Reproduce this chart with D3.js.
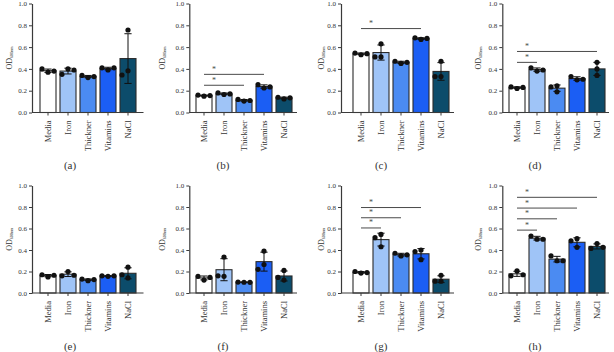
<!DOCTYPE html>
<html>
<head>
<meta charset="utf-8">
<script src="https://cdn.jsdelivr.net/npm/d3@7/dist/d3.min.js"></script>
<style>
  html, body { margin: 0; padding: 0; background: #fff; }
  svg { display: block; }
</style>
</head>
<body>
<div id="chart"></div>
<script>
// Treatments on the x axis of every panel
const categories = ["Media", "Iron", "Thickner", "Vitamins", "NaCl"]
const panelLabels = ["(a)", "(b)", "(c)", "(d)", "(e)", "(f)", "(g)", "(h)"]
const yTicks = [0, 0.2, 0.4, 0.6, 0.8, 1.0]

// Replicate OD600 readings, one array of three per treatment
const repsA = [[0.37, 0.40, 0.38], [0.40, 0.35, 0.39], [0.32, 0.34, 0.33], [0.39, 0.41, 0.41], [0.757, 0.383, 0.344]]
const repsB = [[0.15, 0.16, 0.155], [0.165, 0.18, 0.17], [0.105, 0.12, 0.11], [0.225, 0.255, 0.235], [0.125, 0.14, 0.135]]
const repsC = [[0.53, 0.545, 0.54], [0.51, 0.63, 0.51], [0.45, 0.47, 0.46], [0.67, 0.685, 0.68], [0.47, 0.33, 0.33]]
const repsD = [[0.22, 0.235, 0.23], [0.38, 0.41, 0.39], [0.19, 0.245, 0.235], [0.30, 0.33, 0.305], [0.46, 0.40, 0.34]]
const repsE = [[0.15, 0.17, 0.165], [0.20, 0.16, 0.165], [0.115, 0.13, 0.125], [0.155, 0.16, 0.16], [0.24, 0.14, 0.17]]
const repsF = [[0.12, 0.155, 0.145], [0.335, 0.155, 0.16], [0.10, 0.102, 0.099], [0.39, 0.265, 0.22], [0.21, 0.12, 0.145]]
const repsG = [[0.185, 0.20, 0.19], [0.545, 0.515, 0.43], [0.345, 0.37, 0.355], [0.40, 0.31, 0.385], [0.165, 0.11, 0.11]]
const repsH = [[0.205, 0.16, 0.17], [0.50, 0.53, 0.50], [0.30, 0.345, 0.30], [0.505, 0.485, 0.425], [0.46, 0.415, 0.425]]

// Significance brackets: [from, to, OD level of the line]
const sigA = []
const sigB = [["Media", "Vitamins", 0.35], ["Media", "Thickner", 0.25]]
const sigC = [["Media", "Vitamins", 0.77]]
const sigD = [["Media", "NaCl", 0.56], ["Media", "Iron", 0.46]]
const sigE = []
const sigF = []
const sigG = [["Media", "Vitamins", 0.795], ["Media", "Thickner", 0.70], ["Media", "Iron", 0.605]]
const sigH = [["Media", "NaCl", 0.89], ["Media", "Vitamins", 0.79], ["Media", "Thickner", 0.69], ["Media", "Iron", 0.585]]

const panelReps = [repsA, repsB, repsC, repsD, repsE, repsF, repsG, repsH]
const panelSigs = [sigA, sigB, sigC, sigD, sigE, sigF, sigG, sigH]

const COLORS = {
  fills: ["#ffffff", "#9fc4f7", "#4b8bf2", "#1b5ef4", "#0c4c6b"],
  stroke: "#2b2b2b",
  axis: "#3a3a3a",
  text: "#333",
  dot: "#111",
  sig: "#4a4a4a"
}

const W = 614, H = 352
const SERIF = "'Liberation Serif', 'DejaVu Serif', serif"

// column / row geometry of the panel grid
const COLS = [
  { axisX: 32, band0: 38, axisEnd: 143.5, titleX: 9, labelX: 70 },
  { axisX: 189.3, band0: 194, axisEnd: 297, titleX: 162, labelX: 223 },
  { axisX: 341, band0: 351, axisEnd: 454, titleX: 321, labelX: 381 },
  { axisX: 502.3, band0: 507, axisEnd: 609, titleX: 478, labelX: 535 }
]
const ROWS = [
  { y0: 112.5, y1: 3.5, labelY: 168.5 },
  { y0: 293, y1: 185.5, labelY: 349.5 }
]

const svg = d3.select("#chart").append("svg")
  .attr("width", W).attr("height", H)
  .attr("viewBox", `0 0 ${W} ${H}`)

svg.append("rect").attr("width", W).attr("height", H).attr("fill", "#fff")

panelReps.forEach((reps, i) => {
  const col = COLS[i % 4]
  const row = ROWS[Math.floor(i / 4)]
  drawPanel(col, row, reps, panelSigs[i], panelLabels[i])
})

function drawPanel(col, row, reps, sigs, label) {
  const g = svg.append("g")

  const x = d3.scaleBand()
    .domain(categories)
    .range([col.band0, col.band0 + 100])
    .paddingInner(0.2)
    .paddingOuter(0.1)
  const y = d3.scaleLinear().domain([0, 1]).range([row.y0, row.y1])

  const stats = categories.map((c, k) => ({
    cat: c,
    k: k,
    vals: reps[k],
    mean: d3.mean(reps[k]),
    sd: d3.deviation(reps[k])
  }))

  // Bars
  g.selectAll(".bar")
    .data(stats)
    .join("rect")
    .attr("class", "bar")
    .attr("x", d => x(d.cat))
    .attr("y", d => y(d.mean))
    .attr("width", x.bandwidth())
    .attr("height", d => y(0) - y(d.mean))
    .attr("fill", d => COLORS.fills[d.k])
    .attr("stroke", COLORS.stroke)
    .attr("stroke-width", 1.1)

  // Error bars (mean ± SD)
  const capW = 3.6
  stats.forEach(d => {
    const cx = x(d.cat) + x.bandwidth() / 2
    const top = y(d.mean + d.sd), bot = y(d.mean - d.sd)
    g.append("line")
      .attr("x1", cx).attr("x2", cx).attr("y1", top).attr("y2", bot)
      .attr("stroke", COLORS.dot).attr("stroke-width", 1)
    ;[top, bot].forEach(yy => {
      g.append("line")
        .attr("x1", cx - capW).attr("x2", cx + capW).attr("y1", yy).attr("y2", yy)
        .attr("stroke", COLORS.dot).attr("stroke-width", 1)
    })
  })

  // Replicate dots, spread sideways when they would overlap
  const r = 2.6
  stats.forEach(d => {
    const cx = x(d.cat) + x.bandwidth() / 2
    const placed = []
    d.vals.forEach(v => {
      const py = y(v)
      const offs = [0, -6, 6, -12, 12]
      let px = cx
      for (const o of offs) {
        const ok = placed.every(p => Math.abs(p.x - (cx + o)) >= 2 * r || Math.abs(p.y - py) >= 2 * r + 0.6)
        if (ok) { px = cx + o; break }
      }
      placed.push({ x: px, y: py })
    })
    g.selectAll(null)
      .data(placed)
      .join("circle")
      .attr("cx", p => p.x).attr("cy", p => p.y).attr("r", r)
      .attr("fill", COLORS.dot)
  })

  // Significance lines
  sigs.forEach(([a, b, lvl]) => {
    const x1 = x(a) + x.bandwidth() / 2
    const x2 = x(b) + x.bandwidth() / 2
    g.append("line")
      .attr("x1", x1).attr("x2", x2).attr("y1", y(lvl)).attr("y2", y(lvl))
      .attr("stroke", COLORS.sig).attr("stroke-width", 1)
    g.append("text")
      .attr("x", x1 + 10).attr("y", y(lvl) - 2.5)
      .attr("text-anchor", "middle")
      .attr("font-family", SERIF).attr("font-size", "8px")
      .attr("fill", COLORS.sig)
      .text("*")
  })

  // Y axis
  const yAxis = g.append("g")
    .attr("transform", `translate(${col.axisX},0)`)
    .call(d3.axisLeft(y).tickValues(yTicks).tickFormat(d3.format(".1f")).tickSize(3).tickSizeOuter(0))
  yAxis.select(".domain").attr("stroke", COLORS.axis).attr("stroke-width", 1.2)
  yAxis.selectAll(".tick line").attr("stroke", COLORS.axis).attr("stroke-width", 1)
  yAxis.selectAll(".tick text")
    .attr("x", -5)
    .attr("font-family", SERIF).attr("font-size", "7px").attr("fill", COLORS.text)

  // X axis: baseline runs from the y axis past the last bar
  g.append("line")
    .attr("x1", col.axisX).attr("x2", col.axisEnd)
    .attr("y1", row.y0).attr("y2", row.y0)
    .attr("stroke", COLORS.axis).attr("stroke-width", 1.2)
  const xAxis = g.append("g")
    .attr("transform", `translate(0,${row.y0})`)
    .call(d3.axisBottom(x).tickSize(3).tickSizeOuter(0))
  xAxis.select(".domain").remove()
  xAxis.selectAll(".tick line").attr("stroke", COLORS.axis).attr("stroke-width", 1)
  xAxis.selectAll(".tick text")
    .attr("transform", "rotate(-90)")
    .attr("text-anchor", "end")
    .attr("x", -8)
    .attr("y", 0)
    .attr("dy", "0.33em")
    .attr("font-family", SERIF).attr("font-size", "8.5px").attr("fill", COLORS.text)

  // Y title OD600nm
  const midY = (row.y0 + row.y1) / 2
  const title = g.append("text")
    .attr("transform", `translate(${col.titleX},${midY}) rotate(-90)`)
    .attr("text-anchor", "middle")
    .attr("dy", "0.35em")
    .attr("font-family", SERIF).attr("font-size", "8px").attr("fill", COLORS.text)
  title.append("tspan").text("OD")
  title.append("tspan").attr("font-size", "4.2px").attr("dy", "1.5").text("600nm")

  // Panel label
  g.append("text")
    .attr("x", col.labelX).attr("y", row.labelY)
    .attr("text-anchor", "middle")
    .attr("font-family", SERIF).attr("font-size", "11px").attr("fill", COLORS.text)
    .text(label)
}
</script>
</body>
</html>
